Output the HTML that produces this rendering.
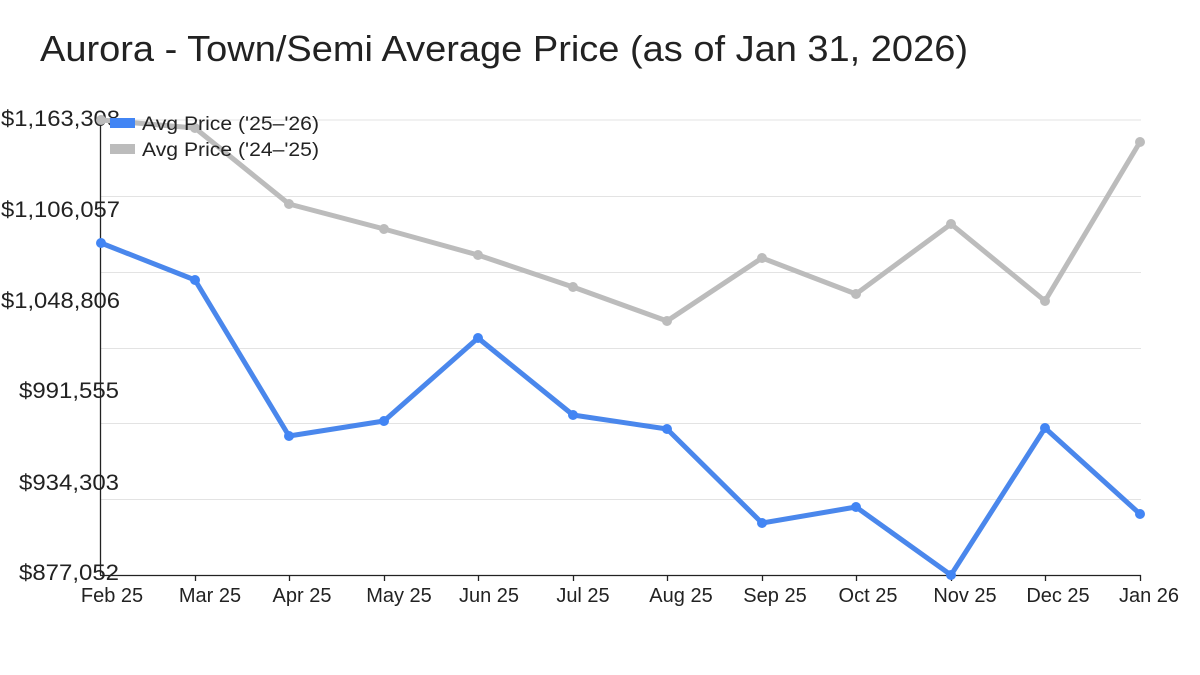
<!DOCTYPE html>
<html><head><meta charset="utf-8"><style>
body{margin:0;background:#fff;}
svg{display:block;font-family:"Liberation Sans","DejaVu Sans",sans-serif;}
</style></head><body>
<svg width="1200" height="675" viewBox="0 0 1200 675">
<rect width="1200" height="675" fill="#fff"/>
<text x="40" y="61" font-size="36" fill="#222" textLength="928" lengthAdjust="spacingAndGlyphs">Aurora - Town/Semi Average Price (as of Jan 31, 2026)</text>
<g stroke="#e3e3e3" stroke-width="1">
<line x1="101" x2="1141" y1="120" y2="120"/>
<line x1="101" x2="1141" y1="196.5" y2="196.5"/>
<line x1="101" x2="1141" y1="272.5" y2="272.5"/>
<line x1="101" x2="1141" y1="348.5" y2="348.5"/>
<line x1="101" x2="1141" y1="423.5" y2="423.5"/>
<line x1="101" x2="1141" y1="499.5" y2="499.5"/>
</g>
<g stroke="#222" stroke-width="1.3">
<line x1="100.5" x2="100.5" y1="120" y2="575"/>
<line x1="100" x2="1141" y1="575.5" y2="575.5"/>
<line x1="195.5" x2="195.5" y1="575" y2="581"/><line x1="289.5" x2="289.5" y1="575" y2="581"/>
<line x1="384.5" x2="384.5" y1="575" y2="581"/><line x1="478.5" x2="478.5" y1="575" y2="581"/>
<line x1="573.5" x2="573.5" y1="575" y2="581"/><line x1="667.5" x2="667.5" y1="575" y2="581"/>
<line x1="762.5" x2="762.5" y1="575" y2="581"/><line x1="856.5" x2="856.5" y1="575" y2="581"/>
<line x1="951.5" x2="951.5" y1="575" y2="581"/><line x1="1045.5" x2="1045.5" y1="575" y2="581"/>
<line x1="1140.5" x2="1140.5" y1="575" y2="581"/>
</g>
<g font-size="22" fill="#222">
<text x="1" y="126" textLength="119" lengthAdjust="spacingAndGlyphs">$1,163,308</text>
<text x="1" y="217" textLength="119" lengthAdjust="spacingAndGlyphs">$1,106,057</text>
<text x="1" y="308" textLength="119" lengthAdjust="spacingAndGlyphs">$1,048,806</text>
<text x="19" y="398" textLength="100" lengthAdjust="spacingAndGlyphs">$991,555</text>
<text x="19" y="490" textLength="100" lengthAdjust="spacingAndGlyphs">$934,303</text>
<text x="19" y="580" textLength="100" lengthAdjust="spacingAndGlyphs">$877,052</text>
</g>
<g font-size="20" fill="#222" text-anchor="middle">
<text x="112" y="602">Feb 25</text><text x="210" y="602">Mar 25</text><text x="302" y="602">Apr 25</text>
<text x="399" y="602">May 25</text><text x="489" y="602">Jun 25</text><text x="583" y="602">Jul 25</text>
<text x="681" y="602">Aug 25</text><text x="775" y="602">Sep 25</text><text x="868" y="602">Oct 25</text>
<text x="965" y="602">Nov 25</text><text x="1058" y="602">Dec 25</text><text x="1149" y="602">Jan 26</text>
</g>
<polyline fill="none" stroke="#bcbcbc" stroke-width="5" stroke-linejoin="round" points="101,120 195,128 289,204 384,229 478,255 573,287 667,321 762,258 856,294 951,224 1045,301 1140,142"/>
<g fill="#bcbcbc">
<circle cx="101" cy="120" r="5"/><circle cx="195" cy="128" r="5"/><circle cx="289" cy="204" r="5"/><circle cx="384" cy="229" r="5"/><circle cx="478" cy="255" r="5"/><circle cx="573" cy="287" r="5"/><circle cx="667" cy="321" r="5"/><circle cx="762" cy="258" r="5"/><circle cx="856" cy="294" r="5"/><circle cx="951" cy="224" r="5"/><circle cx="1045" cy="301" r="5"/><circle cx="1140" cy="142" r="5"/>
</g>
<polyline fill="none" stroke="#4a87ec" stroke-width="5" stroke-linejoin="round" points="101,243 195,280 289,436 384,421 478,338 573,415 667,429 762,523 856,507 951,575 1045,428 1140,514"/>
<g fill="#4285f4">
<circle cx="101" cy="243" r="5"/><circle cx="195" cy="280" r="5"/><circle cx="289" cy="436" r="5"/><circle cx="384" cy="421" r="5"/><circle cx="478" cy="338" r="5"/><circle cx="573" cy="415" r="5"/><circle cx="667" cy="429" r="5"/><circle cx="762" cy="523" r="5"/><circle cx="856" cy="507" r="5"/><circle cx="951" cy="575" r="5"/><circle cx="1045" cy="428" r="5"/><circle cx="1140" cy="514" r="5"/>
</g>
<rect x="110" y="118" width="25" height="10" fill="#4285f4"/>
<rect x="110" y="144" width="25" height="10" fill="#bcbcbc"/>
<g font-size="19" fill="#222">
<text x="142" y="130" textLength="177" lengthAdjust="spacingAndGlyphs">Avg Price ('25–'26)</text>
<text x="142" y="156" textLength="177" lengthAdjust="spacingAndGlyphs">Avg Price ('24–'25)</text>
</g>
</svg>
</body></html>
